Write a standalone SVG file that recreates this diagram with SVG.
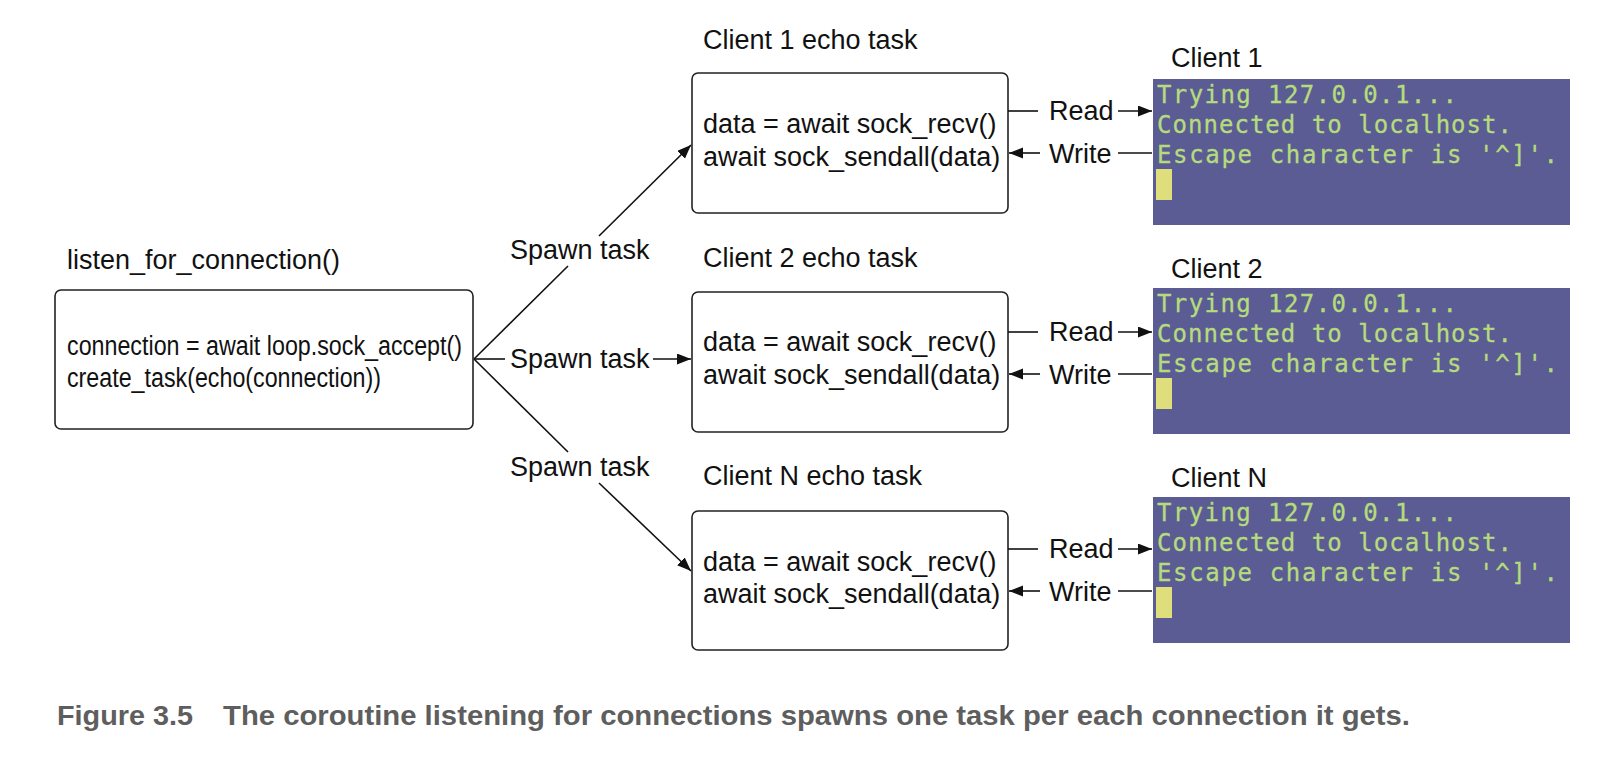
<svg xmlns="http://www.w3.org/2000/svg" width="1618" height="770" viewBox="0 0 1618 770">
<style>
.lbl{font-family:"Liberation Sans",Arial,sans-serif;font-size:27px;fill:#111}
.box{fill:#fff;stroke:#222;stroke-width:1.6}
.term{fill:#5c5c95}
.tt{font-family:"DejaVu Sans Mono","Liberation Mono",monospace;font-size:24px;fill:#b6db7c;stroke:#b6db7c;stroke-width:0.3}
.cur{fill:#dede7c}
.ln{stroke:#111;stroke-width:1.6;fill:none}
.cap{font-family:"Liberation Sans",Arial,sans-serif;font-size:28px;font-weight:bold;fill:#5e5e5e}
</style>
<defs>
<marker id="ah" markerUnits="userSpaceOnUse" markerWidth="16" markerHeight="12" refX="14" refY="5.5" orient="auto">
<path d="M0,0 L14,5.5 L0,11 z" fill="#111"/>
</marker>
</defs>
<rect width="1618" height="770" fill="#fff"/>

<g id="listen">
<text class="lbl" x="67" y="269" textLength="273" lengthAdjust="spacingAndGlyphs">listen_for_connection()</text>
<rect class="box" x="55" y="290" width="418" height="139" rx="6"/>
<text class="lbl" x="67" y="355" textLength="395" lengthAdjust="spacingAndGlyphs">connection = await loop.sock_accept()</text>
<text class="lbl" x="67" y="387" textLength="314" lengthAdjust="spacingAndGlyphs">create_task(echo(connection))</text>
</g>

<g id="task1">
<text class="lbl" x="703" y="49">Client 1 echo task</text>
<rect class="box" x="692" y="73" width="316" height="140" rx="6"/>
<text class="lbl" x="703" y="133">data = await sock_recv()</text>
<text class="lbl" x="703" y="166">await sock_sendall(data)</text>
</g>

<g id="task2">
<text class="lbl" x="703" y="267">Client 2 echo task</text>
<rect class="box" x="692" y="292" width="316" height="140" rx="6"/>
<text class="lbl" x="703" y="351">data = await sock_recv()</text>
<text class="lbl" x="703" y="384">await sock_sendall(data)</text>
</g>

<g id="taskN">
<text class="lbl" x="703" y="485">Client N echo task</text>
<rect class="box" x="692" y="511" width="316" height="139" rx="6"/>
<text class="lbl" x="703" y="571">data = await sock_recv()</text>
<text class="lbl" x="703" y="603">await sock_sendall(data)</text>
</g>

<g id="client1">
<text class="lbl" x="1171" y="67">Client 1</text>
<rect class="term" x="1153" y="79" width="417" height="146"/>
<text class="tt" x="1157" y="103" textLength="300" lengthAdjust="spacing">Trying 127.0.0.1...</text>
<text class="tt" x="1157" y="133" textLength="355" lengthAdjust="spacing">Connected to localhost.</text>
<text class="tt" x="1157" y="163" textLength="401" lengthAdjust="spacing">Escape character is '^]'.</text>
<rect class="cur" x="1156" y="169" width="16" height="31"/>
</g>

<g id="client2">
<text class="lbl" x="1171" y="278">Client 2</text>
<rect class="term" x="1153" y="288" width="417" height="146"/>
<text class="tt" x="1157" y="312" textLength="300" lengthAdjust="spacing">Trying 127.0.0.1...</text>
<text class="tt" x="1157" y="342" textLength="355" lengthAdjust="spacing">Connected to localhost.</text>
<text class="tt" x="1157" y="372" textLength="401" lengthAdjust="spacing">Escape character is '^]'.</text>
<rect class="cur" x="1156" y="378" width="16" height="31"/>
</g>

<g id="clientN">
<text class="lbl" x="1171" y="487">Client N</text>
<rect class="term" x="1153" y="497" width="417" height="146"/>
<text class="tt" x="1157" y="521" textLength="300" lengthAdjust="spacing">Trying 127.0.0.1...</text>
<text class="tt" x="1157" y="551" textLength="355" lengthAdjust="spacing">Connected to localhost.</text>
<text class="tt" x="1157" y="581" textLength="401" lengthAdjust="spacing">Escape character is '^]'.</text>
<rect class="cur" x="1156" y="587" width="16" height="31"/>
</g>

<g id="connectors">
<line class="ln" x1="474" y1="359" x2="568" y2="266"/>
<line class="ln" x1="599" y1="236" x2="691" y2="145" marker-end="url(#ah)"/>
<text class="lbl" x="510" y="259">Spawn task</text>
<line class="ln" x1="474" y1="359" x2="505" y2="359"/>
<line class="ln" x1="653" y1="359" x2="691" y2="359" marker-end="url(#ah)"/>
<text class="lbl" x="510" y="368">Spawn task</text>
<line class="ln" x1="474" y1="359" x2="568" y2="452"/>
<line class="ln" x1="599" y1="483" x2="691" y2="571" marker-end="url(#ah)"/>
<text class="lbl" x="510" y="476">Spawn task</text>

<line class="ln" x1="1008" y1="111" x2="1038" y2="111"/>
<line class="ln" x1="1118" y1="111" x2="1152" y2="111" marker-end="url(#ah)"/>
<text class="lbl" x="1049" y="120">Read</text>
<line class="ln" x1="1152" y1="153" x2="1118" y2="153"/>
<line class="ln" x1="1040" y1="153" x2="1009" y2="153" marker-end="url(#ah)"/>
<text class="lbl" x="1049" y="163">Write</text>

<line class="ln" x1="1008" y1="332" x2="1038" y2="332"/>
<line class="ln" x1="1118" y1="332" x2="1152" y2="332" marker-end="url(#ah)"/>
<text class="lbl" x="1049" y="341">Read</text>
<line class="ln" x1="1152" y1="374" x2="1118" y2="374"/>
<line class="ln" x1="1040" y1="374" x2="1009" y2="374" marker-end="url(#ah)"/>
<text class="lbl" x="1049" y="384">Write</text>

<line class="ln" x1="1008" y1="549" x2="1038" y2="549"/>
<line class="ln" x1="1118" y1="549" x2="1152" y2="549" marker-end="url(#ah)"/>
<text class="lbl" x="1049" y="558">Read</text>
<line class="ln" x1="1152" y1="591" x2="1118" y2="591"/>
<line class="ln" x1="1040" y1="591" x2="1009" y2="591" marker-end="url(#ah)"/>
<text class="lbl" x="1049" y="601">Write</text>
</g>

<g id="caption">
<text class="cap" x="57" y="725" textLength="136" lengthAdjust="spacingAndGlyphs">Figure 3.5</text>
<text class="cap" x="223" y="725" textLength="1187" lengthAdjust="spacingAndGlyphs">The coroutine listening for connections spawns one task per each connection it gets.</text>
</g>
</svg>
